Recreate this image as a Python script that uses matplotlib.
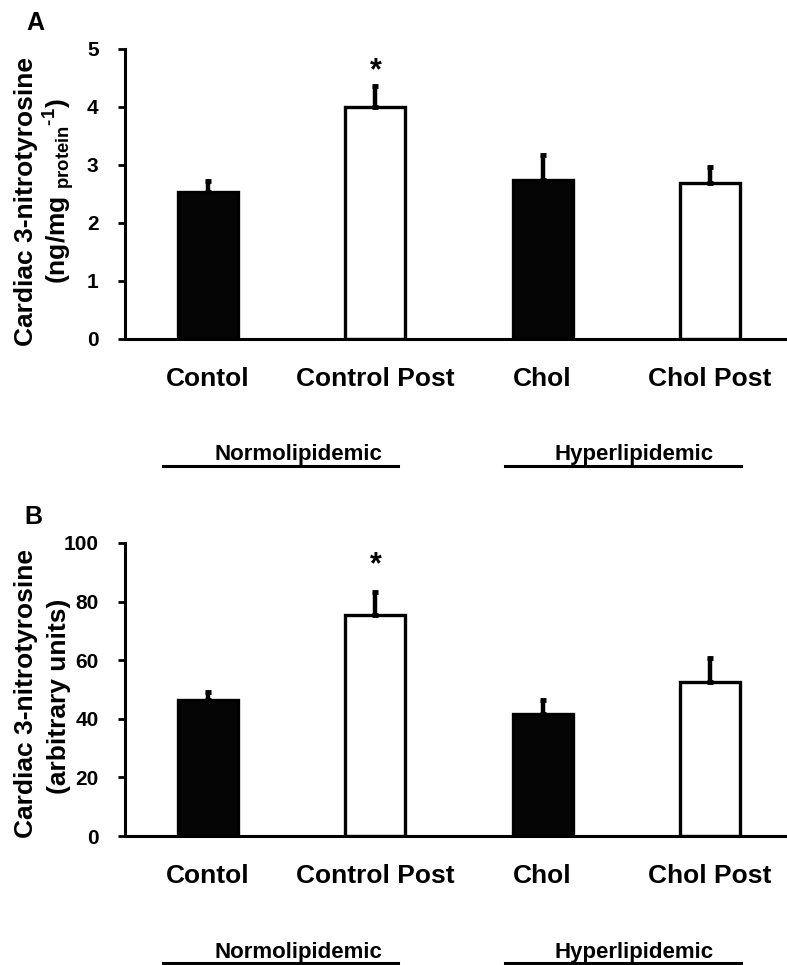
import matplotlib
matplotlib.use("Agg")
import matplotlib.pyplot as plt

plt.rcParams['font.family'] = ['Liberation Sans', 'DejaVu Sans']
plt.rcParams['font.weight'] = 'bold'
plt.rcParams['mathtext.fontset'] = 'custom'
plt.rcParams['mathtext.rm'] = 'Liberation Sans:bold'
plt.rcParams['mathtext.it'] = 'Liberation Sans:bold:italic'
plt.rcParams['mathtext.bf'] = 'Liberation Sans:bold'

# Groups and measurements
categories = ["Contol", "Control Post", "Chol", "Chol Post"]
bar_colors = ["#050505", "white", "#050505", "white"]
groups = ["Normolipidemic", "Hyperlipidemic"]

# Panel A: ng/mg protein^-1
nt_conc_mean = [2.53, 4.00, 2.74, 2.69]
nt_conc_sem = [0.19, 0.37, 0.44, 0.27]
yticks_a = [0, 1, 2, 3, 4, 5]

# Panel B: arbitrary units
nt_arb_mean = [46.5, 75.4, 41.8, 52.7]
nt_arb_sem = [2.5, 7.8, 4.7, 8.1]
yticks_b = [0, 20, 40, 60, 80, 100]

sig_star_a = 4.62
sig_star_b = 92.3

W, H = 787, 965
fig = plt.figure(figsize=(W / 100, H / 100), dpi=100)


def fx(px):
    return px / W


def fy(py):
    return 1 - py / H


def draw_panel(rect, means, sems, yticks, star_y, letter, letter_xy,
               ylab1, ylab2, ylab_y, group_y):
    ax = fig.add_axes(rect)
    x = list(range(len(categories)))
    ax.bar(x, means, width=0.36, color=bar_colors, edgecolor='black',
           linewidth=2.4, zorder=2)
    lower = [0] * len(sems)
    ax.errorbar(x, means, yerr=[lower, sems], fmt='none', ecolor='black',
                elinewidth=3.2, capsize=2.5, capthick=3.5, zorder=3)
    ax.set_xlim(-0.496, 3.46)
    ax.set_ylim(yticks[0], yticks[-1])
    ax.set_yticks(yticks)
    ax.set_xticks(x)
    ax.set_xticklabels(categories, fontsize=19, fontweight='bold')
    ax.tick_params(axis='x', length=0, pad=20)
    ax.tick_params(axis='y', length=5, width=2, direction='out',
                   labelsize=15, pad=14)
    for lab in ax.get_yticklabels():
        lab.set_fontweight('bold')
    for side in ['top', 'right']:
        ax.spines[side].set_visible(False)
    for side in ['left', 'bottom']:
        ax.spines[side].set_linewidth(2.2)
    ax.spines['left'].set_zorder(4)
    ax.patch.set_alpha(0)

    # significance marker
    ax.text(1, star_y, '*', ha='center', va='center', fontsize=22,
            fontweight='bold')

    # panel letter and y-axis title
    fig.text(fx(letter_xy[0]), fy(letter_xy[1]), letter, ha='center',
             va='center', fontsize=18, fontweight='bold')
    fig.text(fx(26), fy(ylab_y[0]), ylab1, rotation=90, ha='center',
             va='center', fontsize=19, fontweight='bold')
    fig.text(fx(59), fy(ylab_y[1]), ylab2, rotation=90, ha='center',
             va='center', fontsize=19, fontweight='bold')

    # group labels with underlines
    text_y, line_y = group_y
    for name, tx, (l0, l1) in zip(groups, [298, 634],
                                  [(163, 398), (505, 741)]):
        fig.text(fx(tx), fy(text_y), name, ha='center', va='baseline',
                 fontsize=16, fontweight='bold')
        fig.add_artist(plt.Line2D([fx(l0), fx(l1)], [fy(line_y), fy(line_y)],
                                  color='black', linewidth=2.2))
    return ax


axA = draw_panel([fx(125), fy(339), fx(787) - fx(125), (339 - 49) / H],
                 nt_conc_mean, nt_conc_sem, yticks_a, sig_star_a,
                 'A', (35, 23),
                 'Cardiac 3-nitrotyrosine',
                 '(ng/mg $_{\\mathrm{protein}}$$^{\\mathrm{\u20101}}$)',
                 (202, 191), (460, 466))

axB = draw_panel([fx(125), fy(836), fx(787) - fx(125), (836 - 543) / H],
                 nt_arb_mean, nt_arb_sem, yticks_b, sig_star_b,
                 'B', (33, 517),
                 'Cardiac 3-nitrotyrosine',
                 '(arbitrary units)',
                 (694, 696), (958, 963))

fig.savefig('out.png', dpi=100, facecolor='white')
